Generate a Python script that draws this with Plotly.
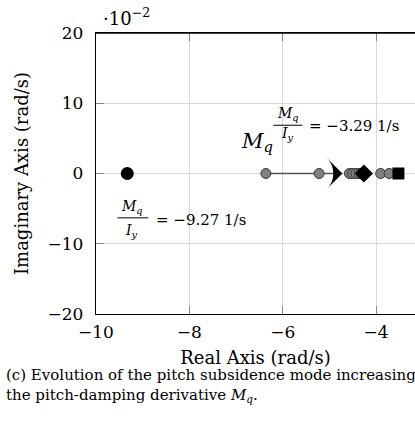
import plotly.graph_objects as go

# ---- data (real parts in rad/s, imaginary parts in units of 1e-2 rad/s) ----
real_ticks = [-10, -8, -6, -4]
imag_ticks = [-20, -10, 0, 10, 20]

start_pole_real = [-9.33]
start_pole_imag = [0.0]
path_pole_real = [-6.36, -5.22, -4.57, -4.50, -4.43, -4.36, -4.31, -3.90, -3.72]
path_pole_imag = [0.0, 0.0, 0.0, 0.0, 0.0, 0.0, 0.0, 0.0, 0.0]
mid_pole_real = [-4.26]
mid_pole_imag = [0.0]
end_pole_real = [-3.52]
end_pole_imag = [0.0]
arrow_real = [-6.36, -4.72]
arrow_imag = [0.0, 0.0]

FONT = "DejaVu Serif"

fig = go.Figure()

fig.add_trace(go.Scatter(x=arrow_real, y=arrow_imag, mode="lines",
                         line=dict(color="#555555", width=1.4),
                         hoverinfo="skip", showlegend=False))
fig.add_trace(go.Scatter(x=start_pole_real, y=start_pole_imag, mode="markers",
                         marker=dict(symbol="circle", size=13, color="black"),
                         showlegend=False))
fig.add_trace(go.Scatter(x=path_pole_real, y=path_pole_imag, mode="markers",
                         marker=dict(symbol="circle", size=10, color="#808080",
                                     line=dict(color="#333333", width=1)),
                         showlegend=False))
fig.add_trace(go.Scatter(x=mid_pole_real, y=mid_pole_imag, mode="markers",
                         marker=dict(symbol="diamond", size=14, color="black"),
                         showlegend=False))
fig.add_trace(go.Scatter(x=end_pole_real, y=end_pole_imag, mode="markers",
                         marker=dict(symbol="square", size=12, color="black"),
                         showlegend=False))
fig.add_trace(go.Scatter(x=[arrow_real[-1]], y=[arrow_imag[-1]], mode="markers",
                         marker=dict(symbol="arrow-wide", angle=90, size=22, color="black"),
                         showlegend=False))

W, H = 415, 440
L, T, B = 96, 33, 126
PW, PH = W - L, H - T - B


def px(xp):
    return (xp - L) / PW


def py(yp):
    return (H - B - yp) / PH


ann = []
# big M_q label
ann.append(dict(x=-6.54, y=4.5, xref="x", yref="y", showarrow=False,
                text="<i>M<sub>q</sub></i>", font=dict(family=FONT, size=21, color="black")))
# top fraction
ann.append(dict(x=-5.88, y=8.4, xref="x", yref="y", showarrow=False,
                text="<i>M<sub>q</sub></i>", font=dict(family=FONT, size=14, color="black")))
ann.append(dict(x=-5.90, y=5.6, xref="x", yref="y", showarrow=False,
                text="<i>I<sub>y</sub></i>", font=dict(family=FONT, size=14, color="black")))
ann.append(dict(x=-5.47, y=6.8, xref="x", yref="y", showarrow=False, xanchor="left",
                text="= \u22123.29 1/s", font=dict(family=FONT, size=15, color="black")))
# bottom fraction
ann.append(dict(x=-9.22, y=-4.75, xref="x", yref="y", showarrow=False,
                text="<i>M<sub>q</sub></i>", font=dict(family=FONT, size=14, color="black")))
ann.append(dict(x=-9.24, y=-8.2, xref="x", yref="y", showarrow=False,
                text="<i>I<sub>y</sub></i>", font=dict(family=FONT, size=14, color="black")))
ann.append(dict(x=-8.75, y=-6.6, xref="x", yref="y", showarrow=False, xanchor="left",
                text="= \u22129.27 1/s", font=dict(family=FONT, size=15, color="black")))
# exponent label
ann.append(dict(x=px(101), y=py(17), xref="paper", yref="paper", showarrow=False,
                xanchor="left", yanchor="middle", text="\u00b710<sup>\u22122</sup>",
                font=dict(family=FONT, size=18, color="black")))
# caption
ann.append(dict(x=px(4), y=py(364), xref="paper", yref="paper",
                showarrow=False, xanchor="left", yanchor="top", align="left",
                text="(c) Evolution of the pitch subsidence mode increasing<br>the pitch-damping derivative <i>M<sub>q</sub></i>.",
                font=dict(family=FONT, size=15, color="black")))

shapes = [
    dict(type="line", xref="x", yref="y", x0=-6.20, x1=-5.58, y0=6.87, y1=6.87,
         line=dict(color="black", width=1)),
    dict(type="line", xref="x", yref="y", x0=-9.54, x1=-8.88, y0=-6.31, y1=-6.31,
         line=dict(color="black", width=1)),
    # top frame line of the axes box
    dict(type="line", xref="paper", yref="paper", x0=0, x1=1, y0=1, y1=1,
         line=dict(color="black", width=1.3), layer="above"),
]

fig.update_layout(
    width=W, height=H,
    margin=dict(l=L, r=0, t=T, b=B, pad=0),
    paper_bgcolor="white", plot_bgcolor="white",
    font=dict(family=FONT, color="black"),
    annotations=ann, shapes=shapes,
)
fig.update_xaxes(
    range=[-10, -10 + PW / 46.67], tickvals=real_ticks,
    ticktext=["\u221210", "\u22128", "\u22126", "\u22124"],
    showgrid=True, gridcolor="#d9d9d9", gridwidth=1, zeroline=False,
    showline=True, linecolor="black", linewidth=1.3, mirror="ticks",
    ticks="inside", ticklen=8, tickcolor="#888888", tickwidth=1,
    tickfont=dict(family=FONT, size=17), ticklabelstandoff=2,
    title=dict(text="Real Axis (rad/s)", font=dict(family=FONT, size=18), standoff=10),
)
fig.update_yaxes(
    range=[-20, 20], tickvals=imag_ticks,
    ticktext=["\u221220", "\u221210", "0", "10", "20"],
    showgrid=True, gridcolor="#d9d9d9", gridwidth=1, zeroline=False,
    showline=True, linecolor="black", linewidth=1.3, mirror=False,
    ticks="inside", ticklen=8, tickcolor="#888888", tickwidth=1,
    tickfont=dict(family=FONT, size=17), ticklabelstandoff=8,
    title=dict(text="Imaginary Axis (rad/s)", font=dict(family=FONT, size=18), standoff=14),
)

fig.write_html("out.html", config={"displayModeBar": False},
               post_script="document.body.style.margin='0';document.body.style.overflow='hidden';")
